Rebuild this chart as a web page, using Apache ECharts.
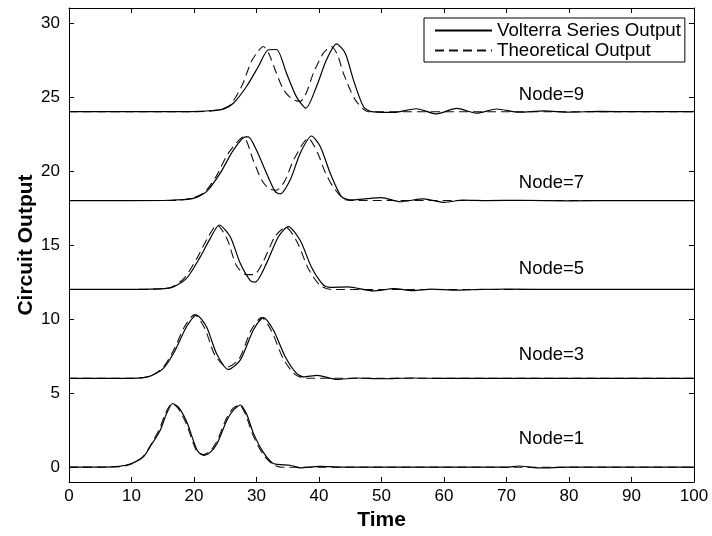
<!DOCTYPE html>
<html>
<head>
<meta charset="utf-8">
<script src="https://cdn.jsdelivr.net/npm/echarts@6/dist/echarts.min.js"></script>
<style>html,body{margin:0;padding:0;background:#fff}#c{width:712px;height:536px}</style>
</head>
<body>
<div id="c"></div>
<script>
// ---- data ----
const xTicks = [0,10,20,30,40,50,60,70,80,90,100];
const yTicks = [0,5,10,15,20,25,30];

// Node=1
const v1t = [0,5,8,10,11.9,13,14.6,15.6,16.6,17.6,18.9,20.5,21.6,22.6,23.7,25.3,26.4,27.4,28.4,29.5,31.1,32.7,35.4,37,40,45,50,60,70,72,75,80,90,100];
const v1y = [0,0,0.05,0.25,0.7,1.4,2.5,3.6,4.3,4.0,3.0,1.15,0.8,1.0,1.6,3.2,3.9,4.2,3.6,2.3,1.0,0.25,0.13,-0.05,0.05,0,0,0,0,0.08,-0.05,0,0,0];
const th1t = [0,8,10,11.8,13,14.5,15.5,16.5,17.5,18.8,20.4,21.5,22.5,23.6,25.2,26.3,27.3,28.3,29.4,31,32.6,34,100];
const th1y = [0,0.03,0.22,0.7,1.45,2.6,3.7,4.3,3.95,2.9,1.1,0.85,1.05,1.7,3.3,4.0,4.2,3.5,2.2,0.9,0.2,0,0];

// Node=3
const v3t = [0,10,13,15.1,17,18.8,20.4,22,23.6,25.5,27.4,29.5,31.1,32.7,34.6,36.4,37.5,39.7,42.9,46,50,55,60,70,80,90,100];
const v3y = [6,6,6.15,6.67,7.9,9.48,10.27,9.48,7.68,6.6,7.23,9.26,10.1,9.26,7.45,6.33,6.1,6.2,5.92,6.02,5.97,6.02,5.99,6,6,6,6];
const th3t = [0,10,13,15,16.8,18.5,20.1,21.7,23.3,25.3,27.2,29.2,30.8,32.4,34.3,36.2,38,100];
const th3y = [6,6,6.15,6.7,7.95,9.5,10.3,9.4,7.6,6.75,7.3,9.3,10.1,9.2,7.3,6.25,6,6];

// Node=5
const v5t = [0,10,16.2,18.8,21,22.6,24.05,25.8,27.4,29,29.8,31.6,33.5,35.1,37,38.8,40.7,41.8,44.6,48.7,52,55,58,62,66,70,80,90,100];
const v5y = [12,12,12.1,12.75,14.2,15.45,16.35,15.56,13.76,12.6,12.5,13.76,15.56,16.24,15.3,13.5,12.3,12.14,12.17,11.9,12.05,11.92,12.02,11.95,12,12.02,12,12,12];
const th5t = [0,10,16,18.4,20.6,22.2,23.7,25.3,26.8,28.4,29.6,31.1,33,34.7,36.5,38.3,40.2,42,100];
const th5y = [12,12,12.1,12.75,14.2,15.5,16.35,15.4,13.6,13.0,13.0,13.9,15.6,16.2,15.2,13.4,12.25,12,12];

// Node=7
const v7t = [0,10,16,19.9,22,24.2,26.3,28.2,28.7,30,31.6,33,33.8,35.4,37,38.8,40.2,41.8,43.6,45.2,47,50,53,56.7,60,63,67,72,80,90,100];
const v7y = [18,18,18.02,18.15,18.6,19.85,21.4,22.3,22.3,21.4,19.85,18.6,18.45,19.4,21.2,22.36,21.65,19.85,18.26,18.04,18.1,18.2,17.92,18.12,17.88,18.03,18,18.02,17.98,18,18];
const th7t = [0,16,19,21.5,23.5,25.5,27.9,29.5,30.8,32,33.2,34.5,36,38.3,39.8,41,42.3,44,46,100];
const th7y = [18,18,18.1,18.5,19.6,21.2,22.3,20.7,19.4,18.8,18.7,19.3,20.8,22.2,21.2,19.9,18.9,18.1,18,18];

// Node=9
const v9t = [0,10,18,21,23,24.7,26.3,28.4,30.3,31.9,33.2,34.8,36.4,37.9,39.6,41.2,42.8,44.2,45.5,47.1,48.4,50.8,52.5,55.6,58.8,62,65.2,68.4,72,76,80,85,90,100];
const v9y = [24,24,24,24.02,24.08,24.17,24.57,25.7,27.05,28.18,28.2,26.6,25.0,24.24,25.7,27.5,28.58,27.95,26.15,24.35,24.0,23.95,23.97,24.2,23.85,24.22,23.9,24.18,23.97,24.05,23.97,24.02,24,24];
const th9t = [0,18,22,24,25.8,27.6,29.2,30.3,31.1,32,33,34.3,35.7,37,38,39.1,40.7,42,43,43.9,45.8,47.9,50,100];
const th9y = [24,24,24.02,24.12,24.46,25.7,27.4,28.1,28.4,27.9,26.8,25.5,24.85,24.7,25.3,26.6,27.95,28.4,27.8,26.6,24.8,24.0,24,24];

const nodeNames = ['Node=1','Node=3','Node=5','Node=7','Node=9'];
const nodeLabelX = [77.2,77.2,77.2,77.2,77.2];
const nodeLabelY = [1.9,7.6,13.4,19.2,25.1];

const volterraT = [v1t,v3t,v5t,v7t,v9t];
const volterraY = [v1y,v3y,v5y,v7y,v9y];
const theoryT = [th1t,th3t,th5t,th7t,th9t];
const theoryY = [th1y,th3y,th5y,th7y,th9y];

const NAME_V = 'Volterra Series Output';
const NAME_T = 'Theoretical Output';
const FONT = '"Liberation Sans", Arial, Helvetica, sans-serif';

const zip = (t, y) => t.map((v, i) => [v, y[i]]);

const series = [];
for (let i = 0; i < 5; i++) {
  series.push({
    name: NAME_V, type: 'line', data: zip(volterraT[i], volterraY[i]),
    showSymbol: false, symbol: 'none', smooth: 0.25, silent: true,
    lineStyle: { color: '#000', width: 1.2, type: 'solid' }, itemStyle: { color: '#000' },
    z: 3
  });
  series.push({
    name: NAME_T, type: 'line', data: zip(theoryT[i], theoryY[i]),
    showSymbol: false, symbol: 'none', smooth: 0.25, silent: true,
    lineStyle: { color: '#111', width: 1.1, type: [9, 5] }, itemStyle: { color: '#111' },
    z: 2
  });
}
series.push({
  name: 'labels', type: 'scatter', symbolSize: 0, silent: true,
  itemStyle: { color: '#000', opacity: 1 },
  data: nodeNames.map((n, i) => ({ name: n, value: [nodeLabelX[i], nodeLabelY[i]] })),
  label: { show: true, position: 'inside', formatter: p => p.name, color: '#000', opacity: 1, fontSize: 18.5, fontFamily: FONT, textBorderWidth: 0 },
  z: 5
});

const chart = echarts.init(document.getElementById('c'), null, { renderer: 'canvas' });
chart.setOption({
  animation: false,
  backgroundColor: '#fff',
  grid: { left: 69, right: 18, top: 8, bottom: 54, show: false },
  legend: {
    data: [NAME_V, NAME_T],
    orient: 'vertical', left: 424, top: 18,
    itemWidth: 57, itemHeight: 12, itemGap: 1,
    padding: [3, 4, 2, 10],
    borderColor: '#000', borderWidth: 1, backgroundColor: '#fff',
    itemStyle: { opacity: 0 },
    textStyle: { color: '#000', fontSize: 18.7, fontFamily: FONT },
    selectedMode: false
  },
  xAxis: [{
    type: 'value', min: 0, max: 100, interval: 10,
    name: 'Time', nameLocation: 'middle', nameGap: 28, nameMoveOverlap: false,
    nameTextStyle: { color: '#000', fontSize: 21, fontWeight: 'bold', fontFamily: FONT },
    axisLine: { show: true, onZero: false, lineStyle: { color: '#000', width: 1 } },
    axisTick: { show: true, inside: true, length: 5, lineStyle: { color: '#000' } },
    axisLabel: { color: '#000', fontSize: 17, fontFamily: FONT, margin: 6, customValues: xTicks },
    splitLine: { show: false }
  }, {
    type: 'value', min: 0, max: 100, interval: 10, position: 'top',
    axisLine: { show: true, onZero: false, lineStyle: { color: '#000', width: 1 } },
    axisTick: { show: true, inside: true, length: 5, lineStyle: { color: '#000' } },
    axisLabel: { show: false }, splitLine: { show: false }
  }],
  yAxis: [{
    type: 'value', min: -1, max: 31,
    name: 'Circuit Output', nameLocation: 'middle', nameGap: 32, nameRotate: 90, nameMoveOverlap: false,
    nameTextStyle: { color: '#000', fontSize: 21, fontWeight: 'bold', fontFamily: FONT },
    axisLine: { show: true, onZero: false, lineStyle: { color: '#000', width: 1 } },
    axisTick: { show: true, inside: true, length: 5, lineStyle: { color: '#000' }, customValues: yTicks },
    axisLabel: { color: '#000', fontSize: 17, fontFamily: FONT, margin: 9, customValues: yTicks },
    splitLine: { show: false }
  }, {
    type: 'value', min: -1, max: 31, position: 'right',
    axisLine: { show: true, onZero: false, lineStyle: { color: '#000', width: 1 } },
    axisTick: { show: true, inside: true, length: 5, lineStyle: { color: '#000' }, customValues: yTicks },
    axisLabel: { show: false }, splitLine: { show: false }
  }],
  series: series
});
</script>
</body>
</html>
